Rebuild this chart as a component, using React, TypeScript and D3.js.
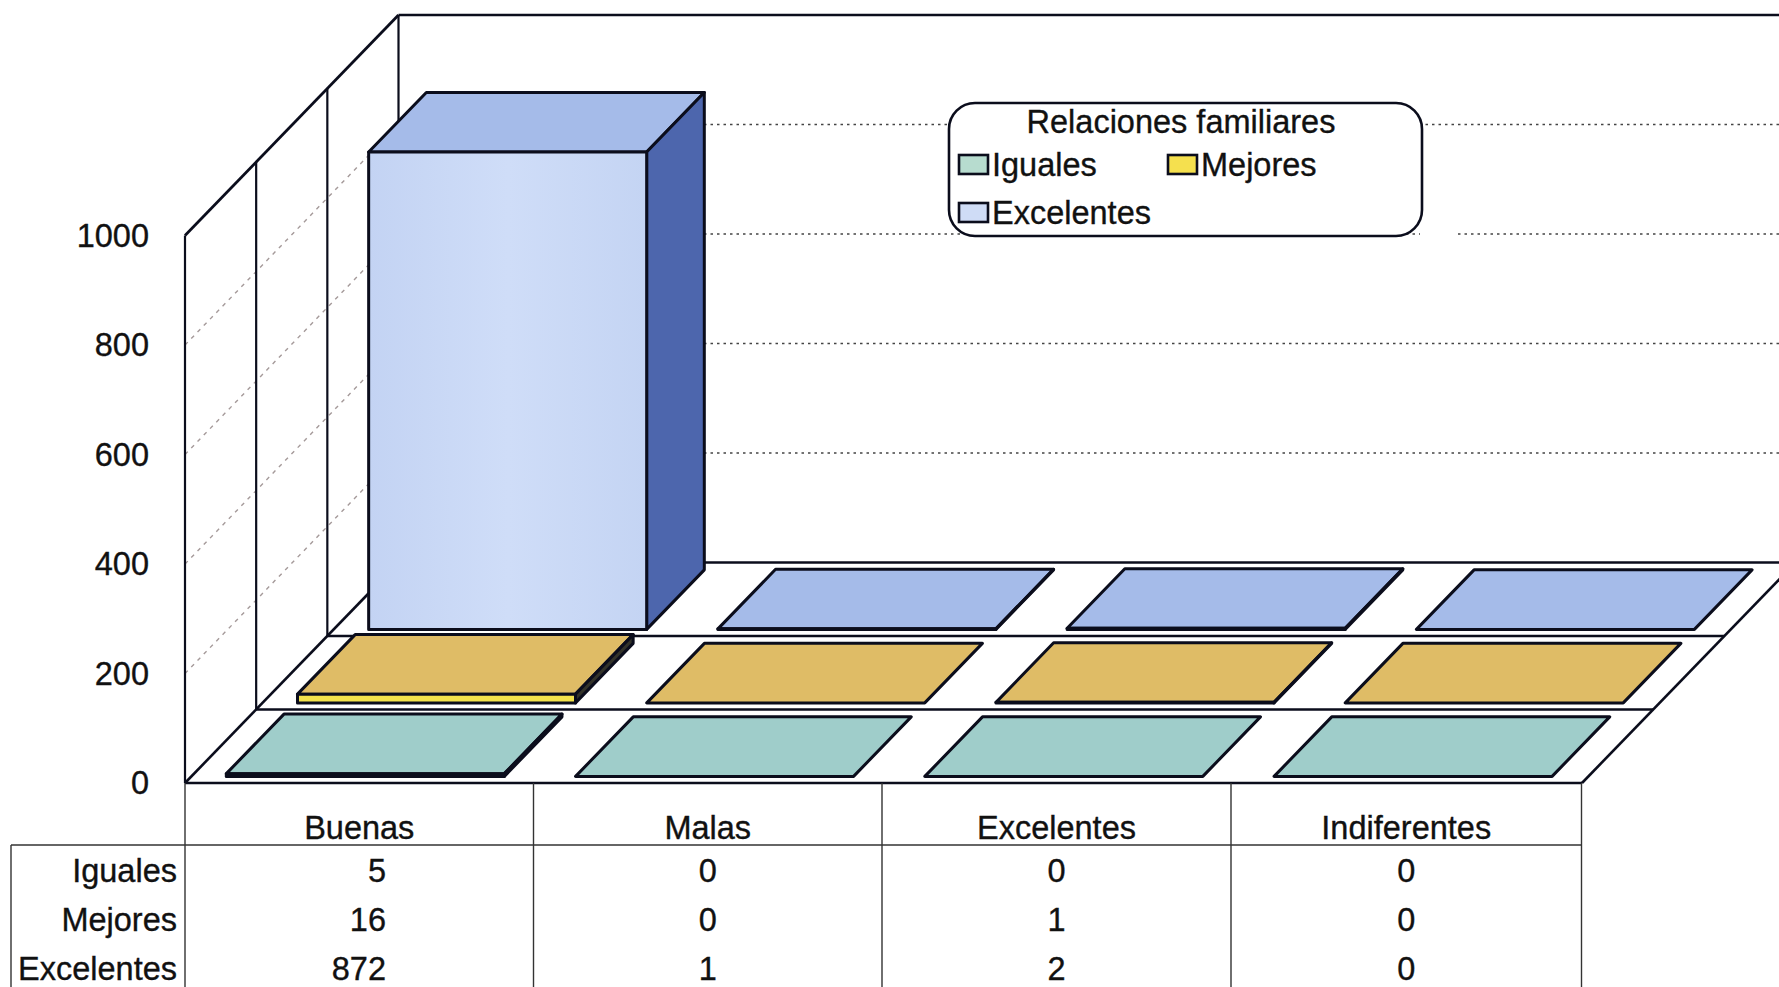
import React from "react";
import * as d3 from "d3";

const categories = ["Buenas", "Malas", "Excelentes", "Indiferentes"];
const seriesNames = ["Iguales", "Mejores", "Excelentes"];
const iguales = [5, 0, 0, 0];
const mejores = [16, 0, 1, 0];
const excelentes = [872, 1, 2, 0];
const seriesValues = [iguales, mejores, excelentes];
const yTicks = [0, 200, 400, 600, 800, 1000];
const legendTitle = "Relaciones familiares";

const topColors = ["#9fcdca", "#dfbc66", "#a5bbe9"];
const frontColors = ["#8fc4bd", "#f3e24c", "url(#frontBlue)"];
const sideColors = ["#2f6d68", "#33332a", "#4d66ad"];
const swatchColors = ["#b7dccf", "#f5e04e", "#cfdcf6"];
const INK = "#0b0d1c";
const FONT = "'Liberation Sans', Arial, sans-serif";

const y = d3.scaleLinear().domain([0, 1000]).range([783, 235.5]);
const cat = d3.scaleLinear().domain([0, 4]).range([185, 1582]);
const tableX = d3.scaleLinear().domain([0, 1, 2, 3, 4]).range([185, 533.5, 882, 1231, 1581.5]);
const depth = d3.scaleLinear().domain([0, 3]).range([0, 1]);
const DX = 213.5;
const DY = 220.5;

const project = (c: number, s: number, v: number): [number, number] => [
  cat(c) + depth(s) * DX,
  y(v) - depth(s) * DY,
];
const poly = d3.line<[number, number]>().curve(d3.curveLinearClosed);
const seg = (a: [number, number], b: [number, number]) => ({ x1: a[0], y1: a[1], x2: b[0], y2: b[1] });

function Bar({ c, s, v }: { c: number; s: number; v: number }) {
  const c0 = c + 0.1;
  const c1 = c + 0.896;
  const s0 = s + 0.09;
  const s1 = s + 0.9;
  const common = { stroke: INK, strokeWidth: 3, strokeLinejoin: "round" as const };
  return (
    <g>
      <path d={poly([project(c0, s0, v), project(c1, s0, v), project(c1, s1, v), project(c0, s1, v)])!} fill={topColors[s]} {...common} />
      {v > 0 && <path d={poly([project(c1, s0, 0), project(c1, s1, 0), project(c1, s1, v), project(c1, s0, v)])!} fill={sideColors[s]} {...common} />}
      {v > 0 && <path d={poly([project(c0, s0, 0), project(c1, s0, 0), project(c1, s0, v), project(c0, s0, v)])!} fill={frontColors[s]} {...common} />}
    </g>
  );
}

export default function App() {
  const text = { fontFamily: FONT, fontSize: 32.5, fill: "#111", stroke: "#111", strokeWidth: 0.35 };
  const tableTop = 845;
  const rowYs = [882, 931, 980];
  const colEdges = [0, 1, 2, 3, 4];
  return (
    <svg width={1779} height={987} style={{ position: "absolute", left: 0, top: 0, background: "#fff", display: "block" }}>
      <defs>
        <linearGradient id="frontBlue" x1="0" x2="1" y1="0" y2="0">
          <stop offset="0" stopColor="#c3d3f3" />
          <stop offset="0.5" stopColor="#cfddf8" />
          <stop offset="1" stopColor="#c4d4f3" />
        </linearGradient>
      </defs>
      {/* back wall gridlines */}
      {yTicks.filter((t) => t > 0 && t < 1000).map((t) => (
        <line key={t} {...seg(project(0, 3, t), [1779, project(0, 3, t)[1]])} stroke="#444" strokeWidth={1.7} strokeDasharray="2.5 4" />
      ))}
      {/* left wall gridlines */}
      {yTicks.filter((t) => t > 0 && t < 1000).map((t) => (
        <line key={t} {...seg(project(0, 0, t), project(0, 3, t))} stroke="#a59a9a" strokeWidth={1.4} strokeDasharray="4 5" />
      ))}
      {/* walls */}
      <line {...seg(project(0, 0, 0), project(0, 0, 1000))} stroke={INK} strokeWidth={2.2} />
      <line {...seg(project(0, 0, 1000), project(0, 3, 1000))} stroke={INK} strokeWidth={2.8} />
      <line {...seg(project(0, 3, 1000), [1779, project(0, 3, 1000)[1]])} stroke={INK} strokeWidth={2.6} />
      {[1, 2, 3].map((s) => (
        <line key={s} {...seg(project(0, s, 0), project(0, s, 1000))} stroke={INK} strokeWidth={2.2} />
      ))}
      {/* floor */}
      <line {...seg(project(0, 0, 0), project(0, 3, 0))} stroke={INK} strokeWidth={2.6} />
      <line {...seg(project(4, 0, 0), project(4, 3, 0))} stroke={INK} strokeWidth={2.6} />
      {[0, 1, 2, 3].map((s) => (
        <line key={s} {...seg(project(0, s, 0), s === 3 ? [1779, project(0, 3, 0)[1]] : project(4, s, 0))} stroke={INK} strokeWidth={2.6} />
      ))}
      {/* bars, back to front */}
      {[2, 1, 0].map((s) =>
        categories.map((_, c) => <Bar key={`${s}-${c}`} c={c} s={s} v={seriesValues[s][c]} />)
      )}
      {/* y axis labels */}
      {yTicks.map((t) => (
        <text key={t} x={149} y={y(t) + 11} textAnchor="end" {...text}>{t}</text>
      ))}
      {/* data table */}
      {colEdges.map((c) => (
        <line key={c} x1={tableX(c)} x2={tableX(c)} y1={783} y2={987} stroke="#333" strokeWidth={1.4} />
      ))}
      <line x1={11} x2={11} y1={tableTop} y2={987} stroke="#333" strokeWidth={1.4} />
      <line x1={11} x2={tableX(4)} y1={tableTop} y2={tableTop} stroke="#333" strokeWidth={1.4} />
      {categories.map((name, c) => (
        <text key={name} x={tableX(c + 0.5)} y={839} textAnchor="middle" {...text}>{name}</text>
      ))}
      {seriesNames.map((name, s) => (
        <g key={name}>
          <text x={177} y={rowYs[s]} textAnchor="end" {...text}>{name}</text>
          {categories.map((_, c) => (
            <text key={c} x={c === 0 ? 386 : tableX(c + 0.5)} y={rowYs[s]} textAnchor={c === 0 ? "end" : "middle"} {...text}>
              {seriesValues[s][c]}
            </text>
          ))}
        </g>
      ))}
      {/* legend */}
      <rect x={1420} y={226} width={34} height={16} fill="#fff" />
      <rect x={949} y={103} width={473} height={133} rx={26} fill="#fff" stroke={INK} strokeWidth={2.6} />
      <text x={1181} y={133} textAnchor="middle" {...text}>{legendTitle}</text>
      {[
        { x: 959, y: 155 },
        { x: 1168, y: 155 },
        { x: 959, y: 203 },
      ].map((p, i) => (
        <g key={i}>
          <rect x={p.x} y={p.y} width={29} height={19} fill={swatchColors[i]} stroke={INK} strokeWidth={2.6} />
          <text x={p.x + 33} y={p.y + 21} {...text}>{seriesNames[i]}</text>
        </g>
      ))}
    </svg>
  );
}
